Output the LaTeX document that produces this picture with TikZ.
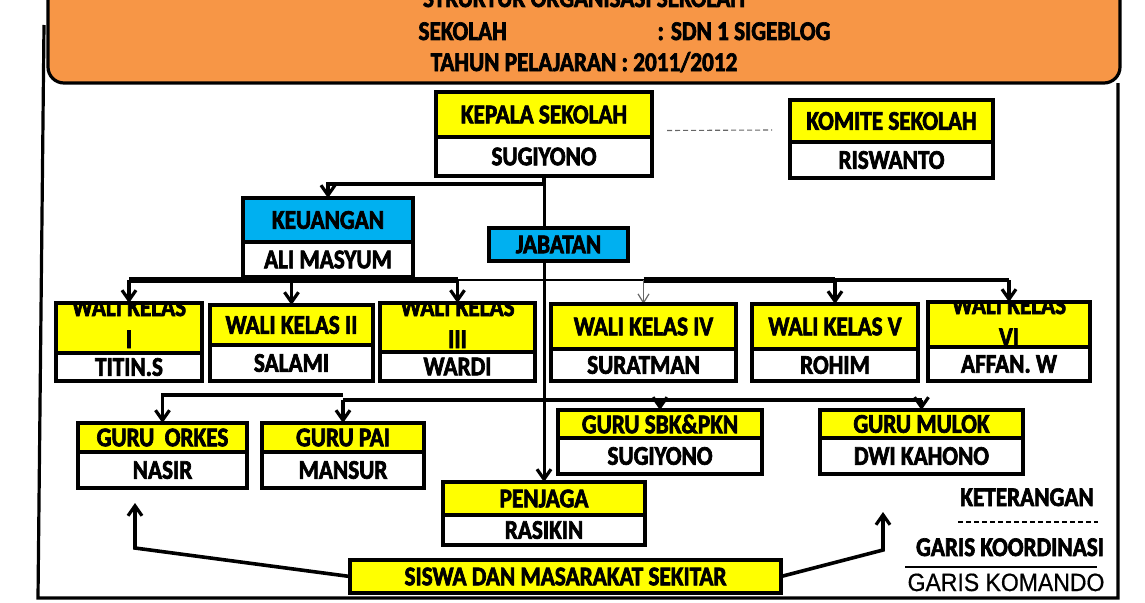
\documentclass[tikz,border=0pt]{standalone}
\usepackage{fontspec}
\setmainfont{Carlito}[FakeStretch=0.86, BoldFeatures={FakeBold=2.5}]
\newfontfamily\arialf{Liberation Sans}[FakeStretch=0.92, FakeBold=0.6]
\usetikzlibrary{arrows.meta,backgrounds}
\definecolor{orangeC}{HTML}{F79646}
\definecolor{yel}{HTML}{FFFF00}
\definecolor{blu}{HTML}{00B0F0}
\newcommand\obox[9]{%
  \node[cell, fill=#7, minimum width=#4-#2, minimum height=#5-#3] (#1T) at (#2,#3) {#8};
  \node[cell, fill=white, minimum width=#4-#2, minimum height=#6-#5] (#1B) at (#2,#5) {#9};}
\begin{document}
\begin{tikzpicture}[x=1pt,y=-1pt,
  lab/.style={font=\bfseries\fontsize{27}{28}\selectfont},
  cell/.style={draw=black, line width=3.2pt, inner sep=0pt, outer sep=0pt, anchor=north west, lab},
  conn/.style={line width=3.6pt},
  arr/.style={line width=3.6pt, -{Straight Barb[length=10pt,width=14pt,line width=3.2pt]}},
  thinarr/.style={line width=1.2pt, draw=black!60, -{Straight Barb[length=9pt,width=11pt,line width=1.2pt]}}]
\useasboundingbox (0,0) rectangle (1145,602);
\clip (0,0) rectangle (1145,602);
% frame
\draw[line width=3.2pt] (44,25) -- (38,598) -- (1118,598) -- (1118,83);
% header
\draw[fill=orangeC, line width=3.2pt, rounded corners=16pt] (48,-30) -- (48,83) -- (1120,83) -- (1120,-30);
\node[lab, anchor=base] (ttl) at (584,7) {STRUKTUR ORGANISASI SEKOLAH};
\node[lab, anchor=base west] (h1) at (415,40) {SEKOLAH};
\node[lab, anchor=base west] (h2) at (654,40) {: SDN 1 SIGEBLOG};
\node[lab, anchor=base] (h3) at (584,71) {TAHUN PELAJARAN : 2011/2012};
% boxes
\obox{kep}{436}{92}{652}{137}{176}{yel}{KEPALA SEKOLAH}{SUGIYONO}
\obox{kom}{790}{100}{993}{142}{178}{yel}{KOMITE SEKOLAH}{RISWANTO}
\obox{keu}{243}{198}{413}{242}{277}{blu}{KEUANGAN}{ALI MASYUM}
\node[cell, fill=blu, minimum width=139, minimum height=33] (jab) at (489,228) {JABATAN};
\obox{w1}{56}{303}{202}{353}{381}{yel}{}{TITIN.S}
\obox{w2}{210}{305}{373}{345}{381}{yel}{WALI KELAS II}{SALAMI}
\obox{w3}{380}{303}{535}{352}{381}{yel}{}{WARDI}
\obox{w4}{551}{304}{736}{349}{381}{yel}{WALI KELAS IV}{SURATMAN}
\obox{w5}{752}{304}{918}{349}{381}{yel}{WALI KELAS V}{ROHIM}
\obox{w6}{928}{302}{1090}{347}{381}{yel}{}{AFFAN. W}
\begin{scope}
  \clip (57.6,304.6) rectangle (200.4,351.4);
  \node[lab, anchor=base] (w1a) at (129,316) {WALI KELAS};
  \node[lab, anchor=base] (w1c) at (129,348) {I};
\end{scope}
\begin{scope}
  \clip (381.6,304.6) rectangle (533.4,350.4);
  \node[lab, anchor=base] (w3a) at (457.5,316) {WALI KELAS};
  \node[lab, anchor=base] (w3c) at (457.5,348) {III};
\end{scope}
\begin{scope}
  \clip (929.6,303.6) rectangle (1088.4,345.4);
  \node[lab, anchor=base] (w6a) at (1009,314) {WALI KELAS};
  \node[lab, anchor=base] (w6c) at (1009,346) {VI};
\end{scope}
\obox{go}{78}{423}{247}{452}{488}{yel}{GURU~ ORKES}{NASIR}
\obox{gp}{262}{423}{424}{452}{488}{yel}{GURU PAI}{MANSUR}
\obox{gs}{558}{410}{762}{438}{474}{yel}{GURU SBK\&PKN}{SUGIYONO}
\obox{gm}{820}{410}{1023}{438}{474}{yel}{GURU MULOK}{DWI KAHONO}
\obox{pen}{443}{482}{645}{515}{545}{yel}{PENJAGA}{RASIKIN}
\node[cell, fill=yel, minimum width=431, minimum height=33] (sis) at (350,560) {SISWA DAN MASARAKAT SEKITAR};
% legend
\node[lab, anchor=base] (ket) at (1027,506) {KETERANGAN};
\node[lab, anchor=base] (gko) at (1010,556) {GARIS KOORDINASI};
\node[font=\arialf\fontsize{25}{26}\selectfont, anchor=base] (gkm) at (1006,591) {GARIS KOMANDO};
\coordinate (lg1) at (958,522); \coordinate (lg2) at (1098,522);
\coordinate (lg3) at (905,567); \coordinate (lg4) at (1097,567);
\draw[line width=1.1pt, dash pattern=on 5pt off 3pt] (lg1) -- (lg2);
\draw[line width=2.4pt] (lg3) -- (lg4);
% connectors
\coordinate (bus) at (0,280);
\coordinate (gl1) at (0,395);
\coordinate (gl2) at (0,400);
\coordinate (sl) at (135,548); \coordinate (slt) at (135,503);
\coordinate (sr) at (883,550); \coordinate (srt) at (883,512);
\begin{scope}[on background layer]
  \draw[line width=1.1pt, draw=black!60, dash pattern=on 5pt off 3pt] (kepT.east) ++(15,16) -- ([xshift=-18pt,yshift=-9pt]komT.west);
  \draw[arr, line width=3pt] (kepB.south) -- (penT.north);
  \draw[arr] (kepB.south) -- ++(0,8) -| (keuT.north);
  \draw[line width=6pt] (w1T.north |- bus) -- (w3T.north |- bus);
  \draw[line width=1.5pt] (w3T.north |- bus) -- (w4T.north |- bus);
  \draw[line width=6pt] (w4T.north |- bus) -- (w5T.north |- bus);
  \draw[line width=3.2pt] (w5T.north |- bus) -- (w6T.north |- bus);
  \draw[arr] (w1T.north |- bus) -- (w1T.north);
  \draw[arr] (w2T.north |- bus) -- (w2T.north);
  \draw[arr] (w3T.north |- bus) -- (w3T.north);
  \draw[thinarr] (w4T.north |- bus) -- (w4T.north);
  \draw[arr] (w5T.north |- bus) -- (w5T.north);
  \draw[arr] (w6T.north |- bus) -- (w6T.north);
  \draw[arr] (gpT.north |- gl1) -| (goT.north);
  \draw[conn] (gpT.north |- gl2) -- (gmT.north |- gl2);
  \draw[arr] (gpT.north |- gl2) -- (gpT.north);
  \draw[arr] (gsT.north |- gl2) -- (gsT.north);
  \draw[arr] (gmT.north |- gl2) -- (gmT.north);
  \draw[arr] (sis.west) -- (sl) -- (slt);
  \draw[arr] (sis.east) -- (sr) -- (srt);
\end{scope}
\end{tikzpicture}
\end{document}
